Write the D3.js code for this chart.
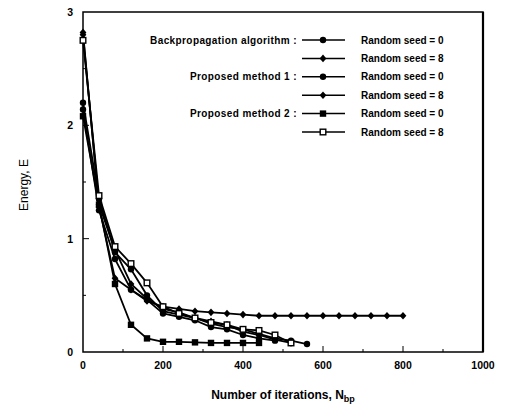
<!DOCTYPE html>
<html>
<head>
<meta charset="utf-8">
<script src="https://cdn.jsdelivr.net/npm/d3@7"></script>
<style>
  body { margin: 0; background: #fff; }
  text { font-family: "Liberation Sans", Arial, sans-serif; font-weight: bold; fill: #000; }
</style>
</head>
<body>
<div id="chart"></div>
<script>
// iterations sampled every 40 steps
const iterations = [0, 40, 80, 120, 160, 200, 240, 280, 320, 360, 400, 440, 480, 520, 560, 600, 640, 680, 720, 760, 800];

const bpSeed0  = [2.20, 1.35, 0.88, 0.73, 0.50, 0.36, 0.33, 0.30, 0.25, 0.22, 0.20, 0.16, 0.12, 0.10, 0.07];
const bpSeed8  = [2.82, 1.28, 0.65, 0.55, 0.45, 0.40, 0.38, 0.36, 0.35, 0.34, 0.33, 0.32, 0.32, 0.32, 0.32, 0.32, 0.32, 0.32, 0.32, 0.32, 0.32];
const pm1Seed0 = [2.14, 1.25, 0.82, 0.55, 0.46, 0.34, 0.31, 0.28, 0.22, 0.20, 0.15, 0.12, 0.10];
const pm1Seed8 = [2.80, 1.30, 0.90, 0.60, 0.47, 0.38, 0.35, 0.30, 0.27, 0.24, 0.18, 0.15, 0.11, 0.08];
const pm2Seed0 = [2.08, 1.30, 0.60, 0.24, 0.12, 0.09, 0.09, 0.085, 0.08, 0.08, 0.08, 0.08];
const pm2Seed8 = [2.75, 1.38, 0.93, 0.78, 0.61, 0.40, 0.34, 0.30, 0.26, 0.24, 0.20, 0.19, 0.15, 0.08];

const xTicks = [0, 200, 400, 600, 800, 1000];
const yTicks = [0, 1, 2, 3];

const series = [
  { method: "Backpropagation algorithm :", seed: "Random seed = 0", values: bpSeed0,  marker: "circle" },
  { method: "",                            seed: "Random seed = 8", values: bpSeed8,  marker: "diamond" },
  { method: "Proposed method 1 :",         seed: "Random seed = 0", values: pm1Seed0, marker: "circle" },
  { method: "",                            seed: "Random seed = 8", values: pm1Seed8, marker: "diamond" },
  { method: "Proposed method 2 :",         seed: "Random seed = 0", values: pm2Seed0, marker: "square" },
  { method: "",                            seed: "Random seed = 8", values: pm2Seed8, marker: "open" }
];

const W = 505, H = 414;
const margin = { top: 12, right: 22, bottom: 62, left: 83 };
const width = W - margin.left - margin.right;
const height = H - margin.top - margin.bottom;

const root = d3.select("#chart").append("svg")
  .attr("width", W).attr("height", H);
const svg = root.append("g")
  .attr("transform", `translate(${margin.left},${margin.top})`);

const x = d3.scaleLinear().domain([0, 1000]).range([0, width]);
const y = d3.scaleLinear().domain([0, 3]).range([height, 0]);

// frame
svg.append("rect")
  .attr("width", width).attr("height", height)
  .attr("fill", "none").attr("stroke", "#000").attr("stroke-width", 1.5);
svg.append("line")
  .attr("x1", width).attr("x2", width).attr("y1", 0).attr("y2", height)
  .attr("stroke", "#000").attr("stroke-width", 2.2);

// inward ticks
const xMinor = d3.range(100, 1000, 100);
svg.selectAll(".xt").data(xMinor).enter().append("line")
  .attr("x1", d => x(d)).attr("x2", d => x(d))
  .attr("y1", height).attr("y2", d => height - (d % 200 === 0 ? 6 : 3))
  .attr("stroke", "#000").attr("stroke-width", 1);
const yMinor = [0.5, 1, 1.5, 2, 2.5];
svg.selectAll(".yt").data(yMinor).enter().append("line")
  .attr("y1", d => y(d)).attr("y2", d => y(d))
  .attr("x1", 0).attr("x2", d => (d % 1 === 0 ? 6 : 3))
  .attr("stroke", "#000").attr("stroke-width", 1);

// tick labels
svg.selectAll(".xl").data(xTicks).enter().append("text")
  .attr("x", d => x(d)).attr("y", height + 17)
  .attr("text-anchor", "middle").style("font-size", "10.5px")
  .text(d => d);
svg.selectAll(".yl").data(yTicks).enter().append("text")
  .attr("x", -10).attr("y", d => y(d) + 4)
  .attr("text-anchor", "end").style("font-size", "10.5px")
  .text(d => d);

// axis titles
const xt = svg.append("text")
  .attr("x", width / 2).attr("y", height + 47)
  .attr("text-anchor", "middle").style("font-size", "12px");
xt.append("tspan").text("Number of iterations, N");
xt.append("tspan").attr("dy", 3).style("font-size", "9px").text("bp");

svg.append("text")
  .attr("transform", "rotate(-90)")
  .attr("x", -173).attr("y", -55)
  .attr("text-anchor", "middle").style("font-size", "12px")
  .style("font-weight", "normal")
  .text("Energy, E");

function drawMarker(g, type, cx, cy) {
  if (type === "circle") {
    g.append("circle").attr("cx", cx).attr("cy", cy).attr("r", 3.2).attr("fill", "#000");
  } else if (type === "diamond") {
    g.append("path")
      .attr("d", `M${cx},${cy - 3.8}L${cx + 3.4},${cy}L${cx},${cy + 3.8}L${cx - 3.4},${cy}Z`)
      .attr("fill", "#000");
  } else if (type === "square") {
    g.append("rect").attr("x", cx - 3.2).attr("y", cy - 3.2).attr("width", 6.4).attr("height", 6.4).attr("fill", "#000");
  } else {
    g.append("rect").attr("x", cx - 2.8).attr("y", cy - 2.8).attr("width", 5.6).attr("height", 5.6)
      .attr("fill", "#fff").attr("stroke", "#000").attr("stroke-width", 1.4);
  }
}

const line = d3.line().x(d => x(d[0])).y(d => y(d[1]));

series.forEach(s => {
  const pts = s.values.map((v, i) => [iterations[i], v]);
  const g = svg.append("g");
  g.append("path").datum(pts)
    .attr("d", line).attr("fill", "none")
    .attr("stroke", "#000").attr("stroke-width", 1.8);
  pts.forEach(p => drawMarker(g, s.marker, x(p[0]), y(p[1])));
});

// legend
const leg = root.append("g");
series.forEach((s, i) => {
  const yy = 40 + i * 18.4;
  if (s.method) {
    leg.append("text").attr("x", 297).attr("y", yy + 3.5)
      .attr("text-anchor", "end").style("font-size", "10px")
      .style("letter-spacing", "0.4px")
      .text(s.method);
  }
  leg.append("line").attr("x1", 302).attr("x2", 345).attr("y1", yy).attr("y2", yy)
    .attr("stroke", "#000").attr("stroke-width", 1.5);
  drawMarker(leg, s.marker, 323, yy);
  leg.append("text").attr("x", 361).attr("y", yy + 3.5)
    .style("font-size", "10px")
    .text(s.seed);
});
</script>
</body>
</html>
